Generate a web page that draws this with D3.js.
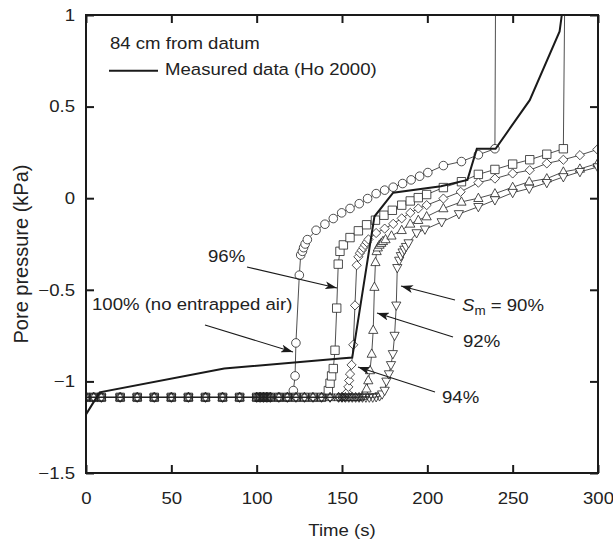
<!DOCTYPE html>
<html>
<head>
<meta charset="utf-8">
<script src="https://cdn.jsdelivr.net/npm/d3@7"></script>
<style>
  body { margin: 0; background: #fff; }
  text { font-family: "Liberation Sans", Arial, Helvetica, sans-serif; fill: #222; }
</style>
</head>
<body>
<div id="chart"></div>
<script>
// ---- data (time in s, pore pressure in kPa) ----
const xTicks = [0, 50, 100, 150, 200, 250, 300];
const yTicks = [-1.5, -1, -0.5, 0, 0.5, 1];

// measured data (Ho 2000), thick line
const measured = [[0,-1.18],[4,-1.12],[8,-1.06],[81,-0.93],[149,-0.875],[156,-0.87],[169,-0.10],
  [180,0.03],[208,0.065],[223.5,0.10],[229,0.27],[240,0.27],[260,0.535],[277.5,0.91],[279.5,1.05]];

// Sm = 100% (no entrapped air), circles
const sat100 = [[0,-1.087],[4.5,-1.087],[9,-1.087],[20,-1.087],[30,-1.087],[40,-1.087],[50,-1.087],
  [60,-1.087],[70,-1.087],[80,-1.087],[90,-1.087],[100,-1.087],[102,-1.087],[104,-1.087],[106,-1.087],
  [108,-1.087],[113,-1.087],[118,-1.087],[121.5,-1.05],[122.5,-0.97],[123,-0.79],[125,-0.42],
  [125.8,-0.31],[126.8,-0.29],[127.5,-0.27],[128.4,-0.25],[129.7,-0.226],[134.8,-0.175],[140,-0.142],
  [144.9,-0.111],[149.8,-0.08],[154.7,-0.056],[160.1,-0.03],[165,-0.002],[170,0.025],[175,0.044],
  [180,0.06],[185.5,0.08],[190.5,0.1],[195.5,0.12],[200.3,0.14],[209.4,0.178],[220,0.2],[229.9,0.237],
  [239.6,0.27],[240.2,1.6]];

// Sm = 96%, squares
const sat96 = [[0,-1.087],[4.5,-1.087],[9,-1.087],[20,-1.087],[30,-1.087],[40,-1.087],[50,-1.087],
  [60,-1.087],[70,-1.087],[80,-1.087],[90,-1.087],[100,-1.087],[102,-1.087],[104,-1.087],[106,-1.087],
  [108,-1.087],[113,-1.087],[118,-1.087],[123,-1.087],[128,-1.087],[133,-1.087],[138,-1.087],
  [142,-1.05],[143,-1.01],[143.9,-0.97],[144.9,-0.93],[145.9,-0.83],[146.9,-0.60],[147.8,-0.36],
  [148.8,-0.29],[150.8,-0.255],[154.7,-0.215],[159.6,-0.178],[164.4,-0.145],[169.6,-0.12],
  [174.6,-0.093],[179.5,-0.066],[185,-0.038],[190,-0.015],[194.7,0.003],[199.6,0.02],[209.4,0.058],
  [220,0.09],[229.9,0.13],[239.6,0.157],[250,0.186],[260,0.21],[270,0.24],[279.7,0.27],[281,1.6]];

// Sm = 94%, diamonds
const sat94 = [[0,-1.087],[4.5,-1.087],[9,-1.087],[20,-1.087],[30,-1.087],[40,-1.087],[50,-1.087],
  [60,-1.087],[70,-1.087],[80,-1.087],[90,-1.087],[100,-1.087],[102,-1.087],[104,-1.087],[106,-1.087],
  [108,-1.087],[113,-1.087],[118,-1.087],[123,-1.087],[128,-1.087],[133,-1.087],[138,-1.087],
  [143,-1.087],[148,-1.087],[150,-1.087],[151.5,-1.085],[153,-1.06],[153.7,-1.03],[154.2,-0.995],
  [154.7,-0.96],[155.6,-0.91],[156.6,-0.80],[157.6,-0.585],[158.6,-0.366],[159.6,-0.32],[160.5,-0.3],
  [161.5,-0.285],[162.5,-0.27],[163.5,-0.255],[164.5,-0.24],[165.5,-0.225],[170,-0.19],[175,-0.166],
  [180,-0.14],[185,-0.11],[190,-0.08],[194.7,-0.056],[199.6,-0.038],[209.4,-0.002],[219.5,0.035],
  [229.9,0.085],[239.6,0.107],[250,0.135],[260,0.153],[270,0.19],[279.7,0.21],[289.4,0.235],[299.6,0.266]];

// Sm = 92%, up triangles
const sat92 = [[0,-1.087],[4.5,-1.087],[9,-1.087],[20,-1.087],[30,-1.087],[40,-1.087],[50,-1.087],
  [60,-1.087],[70,-1.087],[80,-1.087],[90,-1.087],[100,-1.087],[102,-1.087],[104,-1.087],[106,-1.087],
  [108,-1.087],[113,-1.087],[118,-1.087],[123,-1.087],[128,-1.087],[133,-1.087],[138,-1.087],
  [143,-1.087],[148,-1.087],[150,-1.087],[152,-1.087],[154,-1.087],[156,-1.087],[158,-1.087],
  [160,-1.087],[162,-1.08],[163.5,-1.065],[164.4,-1.04],[165.4,-0.995],[166.4,-0.94],[167.4,-0.85],
  [168.3,-0.72],[169,-0.485],[169.6,-0.35],[170.3,-0.29],[171,-0.27],[172,-0.255],[173,-0.245],
  [174,-0.235],[175.5,-0.225],[179,-0.205],[185,-0.175],[190,-0.14],[194.7,-0.12],[199.6,-0.1],
  [209.4,-0.056],[220,-0.02],[229.9,0],[239.6,0.025],[250,0.06],[259.7,0.09],[270,0.107],
  [279.7,0.144],[289.4,0.16],[299.8,0.19]];

// Sm = 90%, down triangles
const sat90 = [[0,-1.087],[4.5,-1.087],[9,-1.087],[20,-1.087],[30,-1.087],[40,-1.087],[50,-1.087],
  [60,-1.087],[70,-1.087],[80,-1.087],[90,-1.087],[100,-1.087],[102,-1.087],[104,-1.087],[106,-1.087],
  [108,-1.087],[113,-1.087],[118,-1.087],[123,-1.087],[128,-1.087],[133,-1.087],[138,-1.087],
  [143,-1.087],[148,-1.087],[150,-1.087],[152,-1.087],[154,-1.087],[156,-1.087],[158,-1.087],
  [160,-1.087],[162,-1.087],[164,-1.087],[166,-1.087],[168,-1.087],[170,-1.085],[172,-1.08],
  [173.5,-1.07],[175,-1.05],[176,-1.0],[177.5,-0.96],[178.7,-0.91],[179.8,-0.85],[180.8,-0.75],
  [181.8,-0.585],[182.4,-0.38],[183.5,-0.34],[184.5,-0.315],[185.5,-0.295],[186.5,-0.28],
  [187.5,-0.265],[189,-0.245],[193.7,-0.19],[198.6,-0.17],[208.4,-0.13],[218.5,-0.086],
  [229.9,-0.047],[239.6,-0.01],[250,0.03],[259.7,0.053],[270,0.084],[279.7,0.116],[289.4,0.144],
  [299.8,0.17]];

// ---- layout ----
const width = 613, height = 542;
const margin = {top: 15, right: 15, bottom: 69, left: 86};
const sx = 1.12;   // the original lettering is a little wide

const svg = d3.select("#chart").append("svg")
  .attr("width", width).attr("height", height);

const x = d3.scaleLinear().domain([0, 300]).range([margin.left, width - margin.right]);
const y = d3.scaleLinear().domain([-1.5, 1]).range([height - margin.bottom, margin.top]);

svg.append("clipPath").attr("id", "plot")
  .append("rect")
  .attr("x", x(0)).attr("y", y(1))
  .attr("width", x(300) - x(0)).attr("height", y(-1.5) - y(1));

// helper for stretched text
function label(px, py, str, anchor, size) {
  return svg.append("text")
    .attr("transform", `translate(${px},${py}) scale(${sx},1)`)
    .attr("text-anchor", anchor || "start")
    .style("font-size", (size || 16.6) + "px")
    .text(str);
}

// ---- series ----
const line = d3.line().x(d => x(d[0])).y(d => y(d[1]));
const plot = svg.append("g").attr("clip-path", "url(#plot)");

const series = [
  {data: sat100, shape: "circle"},
  {data: sat96, shape: "square"},
  {data: sat94, shape: "diamond"},
  {data: sat92, shape: "up"},
  {data: sat90, shape: "down"}
];

series.forEach(s => {
  plot.append("path")
    .datum(s.data)
    .attr("d", line)
    .attr("fill", "none")
    .attr("stroke", "#222")
    .attr("stroke-width", 0.8);
});

const shapes = {
  circle: "M4.3,0A4.3,4.3 0 1,1 -4.3,0A4.3,4.3 0 1,1 4.3,0Z",
  square: "M-4.2,-4.2H4.2V4.2H-4.2Z",
  diamond: "M0,-4.6L4.6,0L0,4.6L-4.6,0Z",
  up: "M0,-5L4.6,3.3H-4.6Z",
  down: "M0,5L4.6,-3.3H-4.6Z"
};

// where all runs sit on the same initial level the symbols pile up,
// so those are left open to give the dense overprinted look
series.forEach(s => {
  plot.append("g").selectAll("path")
    .data(s.data)
    .enter()
    .append("path")
    .attr("d", shapes[s.shape])
    .attr("transform", d => `translate(${x(d[0])},${y(d[1])})`)
    .attr("fill", d => d[1] <= -1.08 ? "none" : "#fff")
    .attr("stroke", "#222")
    .attr("stroke-width", 0.8);
});

plot.append("path")
  .datum(measured)
  .attr("d", line)
  .attr("fill", "none")
  .attr("stroke", "#1a1a1a")
  .attr("stroke-width", 2);

// ---- axes (ticks inside, frame on all sides) ----
const fmt = d => (d < 0 ? "\u2212" : "") + Math.abs(d);

const xAxis = svg.append("g")
  .attr("transform", `translate(0,${y(-1.5)})`)
  .call(d3.axisBottom(x).tickValues(xTicks).tickFormat(fmt).tickSizeInner(-8).tickSizeOuter(0).tickPadding(19));
svg.append("g")
  .attr("transform", `translate(0,${y(1)})`)
  .call(d3.axisTop(x).tickValues(xTicks).tickFormat("").tickSizeInner(-8).tickSizeOuter(0));
const yAxis = svg.append("g")
  .attr("transform", `translate(${x(0)},0)`)
  .call(d3.axisLeft(y).tickValues(yTicks).tickFormat(fmt).tickSizeInner(-8).tickSizeOuter(0).tickPadding(11));
svg.append("g")
  .attr("transform", `translate(${x(300)},0)`)
  .call(d3.axisRight(y).tickValues(yTicks).tickFormat("").tickSizeInner(-8).tickSizeOuter(0));

svg.selectAll(".domain").remove();
svg.selectAll(".tick line").attr("stroke", "#1a1a1a").attr("stroke-width", 2);
svg.selectAll(".tick text")
  .style("font-family", '"Liberation Sans", Arial, Helvetica, sans-serif')
  .style("font-size", "16.6px")
  .attr("fill", "#222")
  .attr("transform", `scale(${sx},1)`);
yAxis.selectAll(".tick text").attr("x", -11 / sx);

svg.append("rect")
  .attr("x", x(0)).attr("y", y(1))
  .attr("width", x(300) - x(0)).attr("height", y(-1.5) - y(1))
  .attr("fill", "none")
  .attr("stroke", "#1a1a1a")
  .attr("stroke-width", 2);

// axis titles
label((x(0) + x(300)) / 2, 536, "Time (s)", "middle");
svg.append("text")
  .attr("transform", `translate(28,${(y(1) + y(-1.5)) / 2 + 10}) rotate(-90)`)
  .attr("text-anchor", "middle")
  .style("font-size", "20px")
  .text("Pore pressure (kPa)");

// ---- legend and notes ----
label(110, 49, "84 cm from datum");
svg.append("line")
  .attr("x1", 109).attr("x2", 158).attr("y1", 70.7).attr("y2", 70.7)
  .attr("stroke", "#1a1a1a").attr("stroke-width", 2);
label(165, 75, "Measured data (Ho 2000)");

svg.append("defs").append("marker")
  .attr("id", "head")
  .attr("viewBox", "0 0 12 8")
  .attr("refX", 12).attr("refY", 4)
  .attr("markerWidth", 12).attr("markerHeight", 8)
  .attr("markerUnits", "userSpaceOnUse")
  .attr("orient", "auto")
  .append("path")
  .attr("d", "M0,0L12,4L0,8L3,4Z")
  .attr("fill", "#1a1a1a");

const arrows = [
  [247, 267, 337, 288],
  [205, 325, 293, 352],
  [455, 300, 401, 286],
  [453, 337, 377, 313],
  [435, 392, 358, 367]
];
arrows.forEach(a => {
  svg.append("line")
    .attr("x1", a[0]).attr("y1", a[1]).attr("x2", a[2]).attr("y2", a[3])
    .attr("stroke", "#1a1a1a").attr("stroke-width", 1.1)
    .attr("marker-end", "url(#head)");
});

label(208, 262, "96%");
label(92, 310, "100% (no entrapped air)");
label(463, 347, "92%");
label(442, 403, "94%");

const sm = svg.append("text")
  .attr("transform", `translate(462,311) scale(${sx},1)`)
  .style("font-size", "16.6px");
sm.append("tspan").style("font-style", "italic").text("S");
sm.append("tspan").attr("dy", 4).style("font-size", "12px").text("m");
sm.append("tspan").attr("dy", -4).text(" = 90%");
</script>
</body>
</html>
